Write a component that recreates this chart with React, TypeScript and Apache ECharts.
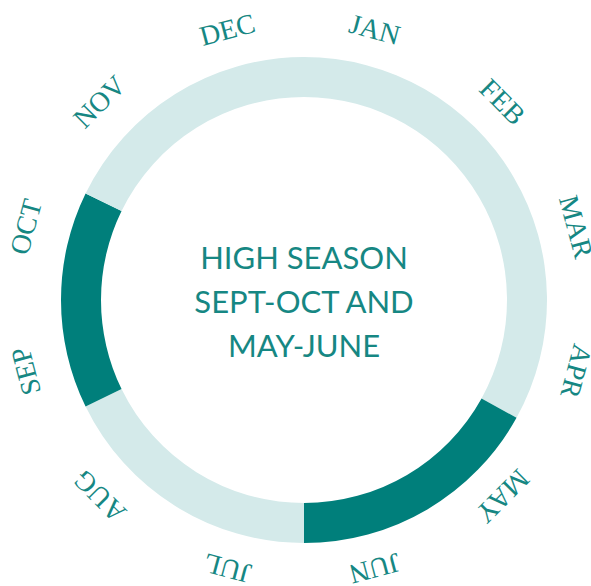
import React, { useEffect, useRef } from "react";
import * as echarts from "echarts";

const months = ["JAN", "FEB", "MAR", "APR", "MAY", "JUN", "JUL", "AUG", "SEP", "OCT", "NOV", "DEC"];
// ring segments clockwise from 12 o'clock (degrees of arc)
const segmentNames = ["Low", "High May-Jun", "Low", "High Sep-Oct", "Low"];
const segmentValues = [119, 61, 64, 52, 64];
const segmentHigh = [false, true, false, true, false];
const centerLines = ["HIGH SEASON", "SEPT-OCT AND", "MAY-JUNE"];

const DARK = "#007f7b";
const LIGHT = "#d4eaea";
const TEXT = "#168783";

export default function App() {
  const ref = useRef<HTMLDivElement>(null);
  useEffect(() => {
    document.body.style.margin = "0";
    const chart = echarts.init(ref.current!, null, { renderer: "svg" });
    const cx = 304;
    const cy = 300;
    const lx = 301;
    const ly = 299;
    const rx = 285;
    const ry = 279;
    const labelEls = months.map((m, i) => {
      const a = ((15 + 30 * i) * Math.PI) / 180;
      return {
        type: "text",
        x: lx + rx * Math.sin(a),
        y: ly - ry * Math.cos(a),
        rotation: -a,
        silent: true,
        style: {
          text: m,
          fill: TEXT,
          font: '28px "Liberation Serif", "DejaVu Serif", serif',
          textAlign: "center",
          textVerticalAlign: "middle",
        },
      };
    });
    chart.setOption({
      animation: false,
      series: [
        {
          type: "pie",
          center: [cx, cy],
          radius: [203, 243],
          startAngle: 90,
          clockwise: true,
          silent: true,
          label: { show: false },
          labelLine: { show: false },
          data: segmentValues.map((v, i) => ({
            name: segmentNames[i],
            value: v,
            itemStyle: { color: segmentHigh[i] ? DARK : LIGHT },
          })),
        },
      ],
      graphic: [
        ...labelEls,
        {
          type: "text",
          x: cx,
          y: cy + 1,
          silent: true,
          style: {
            text: centerLines.join("\n"),
            fill: TEXT,
            font: '31px Lato, "Noto Sans", sans-serif',
            lineHeight: 44,
            textAlign: "center",
            textVerticalAlign: "middle",
          },
        },
      ],
    });
    return () => chart.dispose();
  }, []);
  return <div ref={ref} style={{ width: 591, height: 586 }} />;
}
